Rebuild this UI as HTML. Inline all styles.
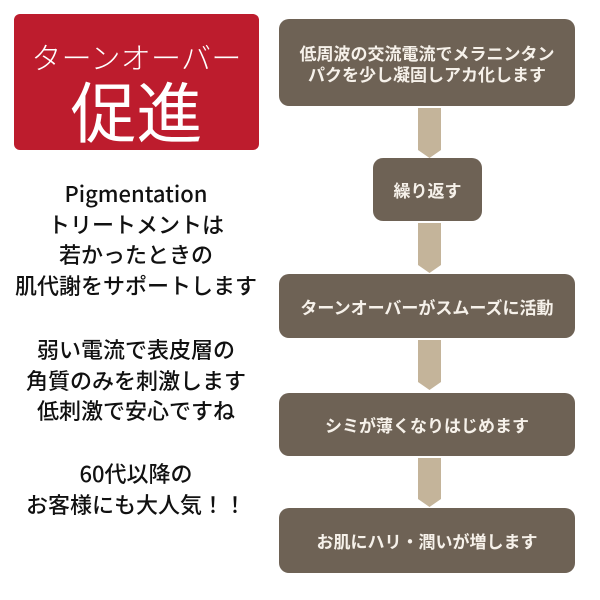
<!DOCTYPE html>
<html><head><meta charset="utf-8">
<style>
html,body{margin:0;padding:0;background:#fff;}
body{width:600px;height:600px;position:relative;overflow:hidden;font-family:"Liberation Sans","Noto Sans CJK JP",sans-serif;}
.red{position:absolute;left:14px;top:14px;width:245px;height:136px;background:#BD1C2D;border-radius:6px;color:#fff;text-align:center;}
.red .t1{position:absolute;left:0;right:0;top:24px;font-family:"Noto Sans CJK JP",sans-serif;font-weight:300;font-size:30px;line-height:36px;letter-spacing:0.3px;}
.red .t2{position:absolute;left:0;right:0;top:59px;font-family:"Noto Sans CJK JP",sans-serif;font-weight:400;font-size:66px;line-height:72px;}
.box{position:absolute;background:#6E6255;border-radius:10px;color:#F6F1EA;font-family:"Noto Sans CJK JP",sans-serif;font-weight:700;font-size:17px;display:flex;align-items:center;justify-content:center;text-align:center;line-height:21px;}
.left{position:absolute;left:0;width:272px;text-align:center;font-family:"Noto Sans CJK JP",sans-serif;font-weight:500;font-size:22px;line-height:30.5px;color:#111;}
svg{position:absolute;left:0;top:0;}
</style></head><body>
<div class="red"><div class="t1">ターンオーバー</div><div class="t2">促進</div></div>

<div class="left" style="top:178px;">Pigmentation<br>トリートメントは<br>若かったときの<br>肌代謝をサポートします</div>
<div class="left" style="top:334px;">弱い電流で表皮層の<br>角質のみを刺激します<br>低刺激で安心ですね</div>
<div class="left" style="top:458px;">60代以降の<br>お客様にも大人気！！</div>

<svg width="600" height="600" viewBox="0 0 600 600">
<g fill="#C4B49A">
<polygon points="418,108 441,108 441,150 429.5,158 418,150"/>
<polygon points="418,223 441,223 441,265 429.5,273 418,265"/>
<polygon points="418,340 441,340 441,382 429.5,390 418,382"/>
<polygon points="418,458 441,458 441,499 429.5,507 418,499"/>
</g>
</svg>

<div class="box" style="left:279px;top:19px;width:296px;height:87px;">低周波の交流電流でメラニンタン<br>パクを少し凝固しアカ化します</div>
<div class="box" style="left:373px;top:158px;width:109px;height:63px;">繰り返す</div>
<div class="box" style="left:279px;top:274px;width:296px;height:64px;">ターンオーバーがスムーズに活動</div>
<div class="box" style="left:279px;top:393px;width:296px;height:63px;">シミが薄くなりはじめます</div>
<div class="box" style="left:279px;top:508px;width:296px;height:65px;">お肌にハリ・潤いが増します</div>
</body></html>
